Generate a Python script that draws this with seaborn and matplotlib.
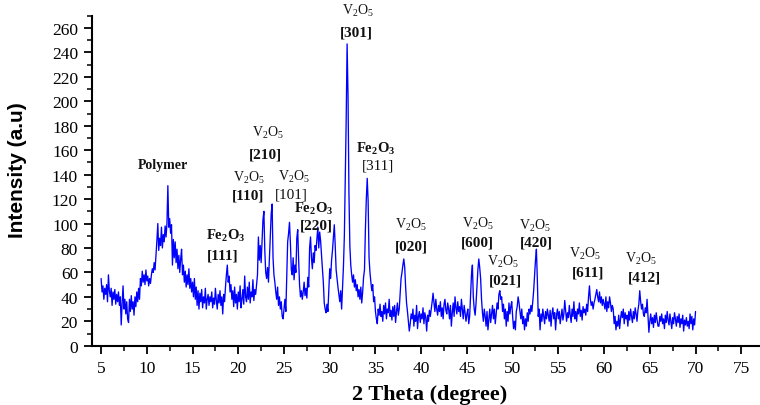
import numpy as np
import pandas as pd
import matplotlib
matplotlib.use("Agg")
import matplotlib.pyplot as plt
from matplotlib.ticker import MultipleLocator
import seaborn as sns

# XRD scan: 2-theta from 5 to 70 degrees in 0.1 degree steps
scan_start, scan_stop = 5.0, 70.0

intensity_05_20 = [
    55, 44, 49, 38, 47, 42, 50, 36, 58, 45,
    40, 47, 33, 44, 38, 46, 34, 42, 36, 44,
    33, 40, 17, 35, 49, 30, 38, 26, 36, 22,
    19, 38, 28, 41, 30, 36, 25, 40, 32, 44,
    36, 47, 38, 55, 49, 61, 52, 58, 50, 62,
    53, 57, 49, 55, 51, 58, 63, 60, 68, 62,
    74, 86, 100, 78, 88, 82, 97, 80, 91, 85,
    98, 89, 100, 131, 97, 104, 92, 99, 66, 87,
    72, 85, 68, 79, 63, 74, 60, 71, 79, 58,
    66, 52, 61, 48, 58, 50, 63, 47, 55, 44,
    52, 40, 55, 38, 48, 33, 45, 30, 43, 36,
    46, 31, 40, 35, 47, 30, 38, 42, 33, 40,
    36, 44, 31, 39, 34, 47, 37, 30, 42, 35,
    45, 33, 40, 26, 42, 36, 48, 58, 66, 52,
    57, 44, 50, 38, 45, 32, 48, 35, 42, 30,
]
intensity_20_35 = [
    44, 36, 49, 31, 38, 46, 34, 57, 40, 36,
    48, 38, 52, 35, 44, 40, 54, 37, 46, 42,
    50, 58, 89, 70, 82, 68, 86, 103, 110, 78,
    60, 55, 64, 52, 70, 90, 108, 116, 72, 58,
    52, 44, 38, 48, 33, 40, 30, 36, 24, 22,
    30, 38, 28, 55, 85, 92, 101, 84, 62, 58,
    72, 54, 66, 60, 88, 95, 70, 50, 40, 45,
    38, 44, 52, 41, 47, 39, 56, 48, 80, 89,
    72, 63, 76, 68, 82, 78, 88, 97, 80, 93,
    86, 74, 63, 52, 35, 30, 27, 34, 28, 45,
    63, 55, 70, 78, 88, 99, 82, 62, 55, 48,
    42, 36, 45, 30, 48, 65, 90, 135, 185, 247,
    205, 125, 82, 66, 58, 52, 58, 48, 54, 45,
    50, 40, 46, 38, 48, 35, 44, 56, 62, 95,
    120, 137, 118, 72, 60, 52, 45, 50, 36, 40,
]
intensity_35_50 = [
    28, 22, 18, 30, 25, 34, 24, 28, 20, 33,
    26, 35, 22, 30, 27, 38, 24, 29, 21, 32,
    24, 33, 19, 28, 35, 25, 30, 42, 55, 60,
    66, 71, 64, 48, 35, 28, 20, 12, 18, 26,
    22, 30, 16, 25, 20, 33, 14, 24, 28, 19,
    26, 22, 31, 18, 27, 23, 12, 25, 20, 29,
    24, 30, 36, 43, 35, 28, 38, 30, 25, 33,
    28, 36, 24, 31, 22, 34, 38, 29, 26, 35,
    30, 22, 33, 16, 27, 35, 24, 40, 31, 26,
    36, 28, 32, 24, 38, 30, 22, 33, 27, 20,
    26, 30, 18, 24, 42, 58, 66, 40, 30, 25,
    35, 48, 62, 71, 64, 55, 38, 27, 20, 30,
    24, 16, 28, 13, 22, 30, 19, 26, 33, 22,
    30, 18, 26, 35, 30, 42, 45, 38, 40, 28,
    34, 22, 30, 16, 28, 20, 35, 26, 32, 36,
]
intensity_50_70 = [
    24, 14, 20, 13, 28, 32, 40, 35, 28, 22,
    30, 18, 24, 13, 22, 16, 27, 20, 30, 26,
    33, 28, 36, 45, 58, 70, 79, 55, 24, 30,
    13, 26, 20, 30, 24, 18, 28, 22, 30, 25,
    20, 29, 16, 26, 31, 22, 27, 13, 25, 30,
    22, 28, 18, 24, 30, 21, 26, 37, 28, 20,
    27, 23, 33, 25, 19, 30, 24, 36, 22, 28,
    20, 30, 26, 35, 24, 29, 21, 32, 27, 30,
    25, 34, 28, 40, 49, 38, 33, 36, 30, 35,
    38, 42, 46, 40, 36, 44, 35, 40, 33, 38,
    34, 30, 40, 28, 36, 31, 40, 35, 28, 33,
    30, 18, 24, 13, 20, 16, 25, 14, 22, 28,
    23, 30, 18, 27, 22, 25, 16, 28, 21, 30,
    24, 19, 28, 22, 31, 26, 20, 29, 34, 45,
    36, 30, 34, 26, 24, 31, 27, 38, 24, 11,
    20, 26, 18, 23, 15, 25, 19, 27, 21, 16,
    16, 24, 20, 26, 18, 22, 14, 25, 19, 28,
    21, 17, 26, 20, 14, 23, 18, 27, 22, 16,
    24, 19, 26, 15, 22, 18, 25, 12, 21, 17,
    23, 16, 20, 14, 26, 18, 24, 13, 22, 17,
    28,
]
intensity = intensity_05_20 + intensity_20_35 + intensity_35_50 + intensity_50_70
two_theta = np.linspace(scan_start, scan_stop, len(intensity))

x_ticks = list(range(5, 80, 5))
y_ticks = list(range(0, 280, 20))

V2O5 = r"V$_\mathregular{2}$O$_\mathregular{5}$"
FE2O3 = r"Fe$_\mathregular{2}$O$_\mathregular{3}$"

# (phase, phase x, phase y, plane, plane x, plane y, plane bold)
peak_labels = [
    (FE2O3, 18.68, 91.0, "[111]", 18.3, 74.0, True),
    (V2O5, 21.2, 138.0, "[110]", 21.05, 123.0, True),
    (V2O5, 23.24, 175.0, "[210]", 22.96, 156.5, True),
    (V2O5, 26.13, 139.0, "[101]", 25.8, 124.5, False),
    (FE2O3, 28.3, 113.0, "[220]", 28.5, 99.0, True),
    (V2O5, 33.07, 275.0, "[301]", 32.91, 256.5, True),
    (FE2O3, 35.0, 162.5, "[311]", 35.26, 147.5, False),
    (V2O5, 38.9, 99.5, "[020]", 38.9, 81.5, True),
    (V2O5, 46.25, 100.5, "[600]", 46.14, 84.5, True),
    (V2O5, 49.0, 69.5, "[021]", 49.2, 53.5, True),
    (V2O5, 52.4, 99.0, "[420]", 52.6, 84.5, True),
    (V2O5, 57.95, 76.0, "[611]", 58.28, 60.0, True),
    (V2O5, 64.07, 72.0, "[412]", 64.4, 56.3, True),
]

sns.set_theme(style="ticks")
serif = ["Liberation Serif", "DejaVu Serif"]
plt.rcParams["font.family"] = serif
plt.rcParams["mathtext.fontset"] = "custom"
plt.rcParams["mathtext.rm"] = "Liberation Serif"
plt.rcParams["mathtext.bf"] = "Liberation Serif:bold"

fig = plt.figure(figsize=(7.6, 4.06), dpi=100)
ax = fig.add_axes([0.121, 0.146, 0.879, 0.8126])

df = pd.DataFrame({"two_theta": two_theta, "intensity": intensity})
sns.lineplot(data=df, x="two_theta", y="intensity", ax=ax, color="#0000ff",
             linewidth=0.95, sort=False, estimator=None)

ax.set_xlim(4.0, 77.05)
ax.set_ylim(0, 270)
ax.set_xticks(x_ticks)
ax.set_yticks(y_ticks)
ax.xaxis.set_minor_locator(MultipleLocator(2.5))
ax.yaxis.set_minor_locator(MultipleLocator(10))
ax.tick_params(which="major", direction="out", length=6, width=1.3,
               color="black", labelsize=12.5, labelcolor="black", pad=4)
ax.tick_params(which="minor", direction="out", length=3.5, width=1.1, color="black")
for side in ("top", "right"):
    ax.spines[side].set_visible(False)
for side in ("left", "bottom"):
    ax.spines[side].set_linewidth(1.5)
    ax.spines[side].set_color("black")

ax.set_xlabel("2 Theta (degree)", fontsize=16, fontweight="bold", color="black")
ax.xaxis.set_label_coords(0.505, -0.146)
ax.xaxis.label.set_va("center")
ax.set_ylabel("Intensity (a.u)", fontsize=15, fontweight="bold", color="black",
              family=["Liberation Sans Narrow", "Liberation Sans", "DejaVu Sans"])
ax.yaxis.set_label_coords(-0.111, 0.536)
ax.yaxis.label.set_va("center")

ax.text(11.8, 148.7, "Polymer", fontsize=10, fontweight="bold",
        ha="center", va="center", color="#111111")
for phase, px, py, plane, hx, hy, bold in peak_labels:
    is_fe = phase == FE2O3
    ax.text(px, py, phase, fontsize=10.5 if is_fe else 10,
            fontweight="bold" if is_fe else "normal",
            ha="center", va="center", color="#111111", clip_on=False)
    ax.text(hx, hy, plane, fontsize=11,
            fontweight="bold" if bold else "normal",
            ha="center", va="center", color="#111111", clip_on=False)

fig.savefig("out.png", dpi=100)
